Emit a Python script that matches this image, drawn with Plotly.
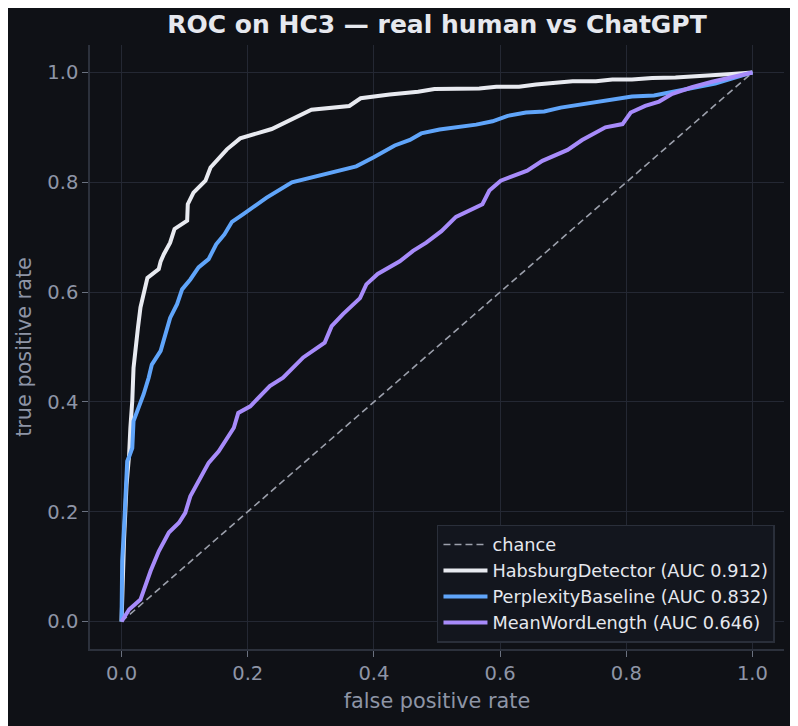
import plotly.graph_objects as go

# ---- data ----
chance_x = [0.0, 1.0]
chance_y = [0.0, 1.0]

habsburg_fpr = [0, 0.001, 0.004, 0.008, 0.012, 0.014, 0.017, 0.019, 0.022, 0.026, 0.030, 0.035,
                0.041, 0.059, 0.062, 0.067, 0.077, 0.084, 0.104, 0.105, 0.114, 0.133, 0.141, 0.167,
                0.188, 0.238, 0.267, 0.301, 0.361, 0.379, 0.425, 0.470, 0.496, 0.567, 0.594, 0.630,
                0.657, 0.688, 0.715, 0.752, 0.778, 0.809, 0.841, 0.878, 0.936, 0.967, 1.0]
habsburg_tpr = [0, 0.05, 0.15, 0.25, 0.304, 0.353, 0.402, 0.462, 0.499, 0.535, 0.572, 0.596,
                0.626, 0.642, 0.656, 0.669, 0.690, 0.715, 0.730, 0.760, 0.781, 0.803, 0.827, 0.860,
                0.880, 0.897, 0.914, 0.932, 0.939, 0.953, 0.960, 0.965, 0.970, 0.971, 0.974, 0.974,
                0.978, 0.982, 0.984, 0.984, 0.987, 0.987, 0.990, 0.991, 0.994, 0.997, 1.0]

perplexity_fpr = [0, 0.001, 0.001, 0.004, 0.006, 0.009, 0.012, 0.017, 0.019, 0.025, 0.035, 0.043,
                  0.048, 0.062, 0.072, 0.077, 0.088, 0.096, 0.109, 0.122, 0.138, 0.150, 0.163, 0.175,
                  0.193, 0.230, 0.270, 0.320, 0.372, 0.399, 0.433, 0.457, 0.475, 0.504, 0.562, 0.588,
                  0.612, 0.641, 0.670, 0.696, 0.725, 0.752, 0.778, 0.809, 0.844, 0.873, 0.904, 0.941,
                  0.967, 1.0]
perplexity_tpr = [0, 0.049, 0.110, 0.171, 0.232, 0.292, 0.300, 0.316, 0.365, 0.383, 0.414, 0.444,
                  0.468, 0.493, 0.529, 0.553, 0.578, 0.605, 0.623, 0.645, 0.660, 0.687, 0.705, 0.728,
                  0.742, 0.772, 0.800, 0.815, 0.829, 0.845, 0.867, 0.877, 0.889, 0.896, 0.905, 0.911,
                  0.921, 0.927, 0.929, 0.936, 0.941, 0.947, 0.950, 0.956, 0.958, 0.965, 0.972, 0.980,
                  0.989, 1.0]

meanword_fpr = [0, 0.012, 0.030, 0.046, 0.059, 0.075, 0.091, 0.101, 0.109, 0.120, 0.138, 0.154,
                0.178, 0.185, 0.204, 0.235, 0.256, 0.288, 0.322, 0.333, 0.351, 0.378, 0.388, 0.406,
                0.441, 0.462, 0.483, 0.507, 0.530, 0.572, 0.583, 0.601, 0.643, 0.667, 0.707, 0.730,
                0.767, 0.794, 0.807, 0.830, 0.852, 0.873, 0.904, 0.936, 0.967, 1.0]
meanword_tpr = [0, 0.022, 0.040, 0.092, 0.128, 0.162, 0.180, 0.198, 0.228, 0.250, 0.289, 0.310,
                0.353, 0.380, 0.392, 0.429, 0.444, 0.481, 0.508, 0.538, 0.560, 0.589, 0.614, 0.633,
                0.656, 0.675, 0.690, 0.711, 0.737, 0.760, 0.785, 0.803, 0.821, 0.839, 0.859, 0.877,
                0.900, 0.906, 0.927, 0.939, 0.947, 0.961, 0.973, 0.983, 0.992, 1.0]

series_names = ["chance", "HabsburgDetector (AUC 0.912)", "PerplexityBaseline (AUC 0.832)",
                "MeanWordLength (AUC 0.646)"]
tick_vals = [0.0, 0.2, 0.4, 0.6, 0.8, 1.0]

BG = "#0f1116"
GRID = "#242833"
SPINE = "#2c313c"
TICK_TXT = "#8e95a6"
TXT = "#e6e8ee"
FONT = "DejaVu Sans"

fig = go.Figure()
fig.add_trace(go.Scatter(x=chance_x, y=chance_y, mode="lines", name=series_names[0],
                         line=dict(color="#9ca0ac", width=1.6, dash="7px,4px")))
fig.add_trace(go.Scatter(x=habsburg_fpr, y=habsburg_tpr, mode="lines", name=series_names[1],
                         line=dict(color="#e8eaf0", width=4)))
fig.add_trace(go.Scatter(x=perplexity_fpr, y=perplexity_tpr, mode="lines", name=series_names[2],
                         line=dict(color="#60a5fa", width=4)))
fig.add_trace(go.Scatter(x=meanword_fpr, y=meanword_tpr, mode="lines", name=series_names[3],
                         line=dict(color="#a78bfa", width=4)))

axis_common = dict(
    range=[-0.05, 1.05], tickvals=tick_vals, tickformat=".1f",
    showgrid=True, gridcolor=GRID, gridwidth=1, zeroline=False,
    ticks="outside", ticklen=6, tickwidth=1, tickcolor="#6b7280",
    tickfont=dict(family=FONT, size=19.5, color=TICK_TXT),
    showline=True, linecolor=SPINE, linewidth=1.5, mirror=False,
)

fig.update_layout(
    width=798, height=726,
    paper_bgcolor=BG, plot_bgcolor=BG,
    margin=dict(l=82, r=22, t=37, b=85),
    title=dict(text="<b>ROC on HC3 — real human vs ChatGPT</b>",
               x=(82 + 776) / 2 / 798, xanchor="center",
               y=0.977, yanchor="middle",
               font=dict(family=FONT, size=25, color=TXT)),
    xaxis=dict(**axis_common,
               title=dict(text="false positive rate", standoff=9,
                          font=dict(family=FONT, size=20.8, color=TICK_TXT))),
    yaxis=dict(**axis_common,
               title=dict(text="true positive rate", standoff=10,
                          font=dict(family=FONT, size=20.8, color=TICK_TXT))),
    legend=dict(x=0.987, xanchor="right", y=0.010, yanchor="bottom",
                bgcolor="#13161e", bordercolor="#2a2f3a", borderwidth=1.5,
                font=dict(family=FONT, size=17.7, color=TXT),
                itemwidth=44),
    showlegend=True,
)

fig.write_html("out.html")
